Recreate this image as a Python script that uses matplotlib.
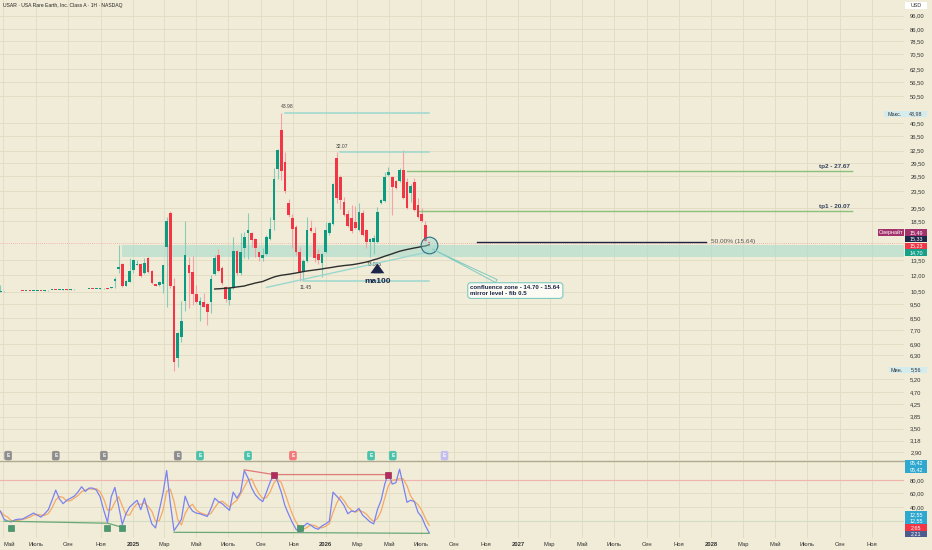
import numpy as np
import pandas as pd
import matplotlib
matplotlib.use("Agg")
import matplotlib.pyplot as plt
import matplotlib.dates as mdates
from matplotlib.patches import Rectangle
from matplotlib.ticker import NullLocator
from datetime import date, timedelta

plt.rcParams['font.family'] = ['Liberation Sans', 'DejaVu Sans']

# weekly candles, first one in the week of 2024-04-25
first_week = date(2024, 4, 25)

# flat SPAC period, then the traded stock
opens = [10.50, 10.52, 10.53, 10.52, 10.54, 10.53, 10.55, 10.54, 10.56, 10.55, 10.57, 10.58, 10.57, 10.60, 10.62,
         10.64, 10.62, 10.66, 10.68, 10.66, 10.68, 10.69, 10.70, 10.69, 10.72, 10.73, 10.71, 10.75, 10.78,
         10.81, 10.81, 11.43, 12.59, 13.11, 11.01, 11.37, 12.49, 13.05, 13.11, 12.16, 13.72, 12.39, 11.14, 11.05,
         11.19, 14.98, 19.77, 11.01, 6.15, 7.31, 9.76, 13.00, 12.32, 10.30, 9.43, 9.69, 9.51, 9.69, 12.09,
         14.08, 12.69, 10.92, 9.82, 10.78, 14.55, 12.16, 14.86, 16.76, 16.76, 15.98, 14.46, 13.72, 14.20,
         15.98, 18.65, 28.01, 38.38, 29.77, 21.32, 18.91, 17.67, 14.46, 12.32, 13.46, 17.45, 16.84, 14.20,
         13.18, 14.46, 16.76, 18.02, 30.59, 26.39, 21.60, 19.52, 19.00, 18.40, 17.21, 19.68, 17.21, 15.60,
         15.67, 15.60, 21.32, 21.72, 26.75, 26.33, 25.50, 25.50, 27.85, 25.30, 23.16, 25.30, 21.03, 19.57,
         17.92, 15.60]
highs = [11.05, 10.54, 10.54, 10.55, 10.55, 10.56, 10.56, 10.57, 10.57, 10.58, 10.59, 10.59, 10.61, 10.63, 10.65,
         10.65, 10.67, 10.69, 10.69, 10.69, 10.70, 10.71, 10.71, 10.73, 10.74, 10.74, 10.76, 10.79, 10.81,
         10.85, 10.92, 11.84, 15.26, 13.20, 11.50, 13.78, 13.60, 13.53, 13.20, 13.75, 13.90, 12.45, 11.20, 11.40,
         13.05, 19.15, 20.00, 11.69, 7.60, 9.76, 18.50, 13.89, 13.95, 11.08, 10.03, 10.36, 9.60, 12.00, 14.08,
         14.74, 12.90, 11.00, 10.90, 16.31, 14.70, 16.76, 16.98, 19.68, 17.00, 16.10, 14.60, 14.86, 16.54,
         19.06, 28.23, 33.00, 43.98, 32.25, 22.02, 19.57, 17.92, 15.05, 13.60, 19.06, 18.65, 17.67, 14.74,
         14.30, 18.40, 18.40, 25.00, 32.07, 26.80, 22.48, 20.21, 21.03, 20.92, 21.32, 20.21, 17.30, 16.10,
         16.54, 20.75, 22.00, 27.35, 28.60, 26.60, 25.70, 28.23, 32.70, 26.06, 24.90, 26.20, 22.20, 20.60,
         18.50, 15.70]
lows = [10.48, 10.50, 10.51, 10.51, 10.52, 10.52, 10.53, 10.53, 10.54, 10.54, 10.56, 10.56, 10.56, 10.59, 10.61,
        10.61, 10.61, 10.65, 10.65, 10.65, 10.67, 10.68, 10.68, 10.68, 10.71, 10.70, 10.70, 10.74, 10.76,
        10.70, 10.78, 10.78, 12.16, 10.90, 10.95, 11.30, 12.19, 12.95, 11.80, 12.10, 12.20, 11.20, 10.95, 11.00,
        10.39, 9.26, 10.81, 5.56, 5.75, 7.03, 9.01, 9.19, 9.43, 9.60, 8.30, 9.25, 8.03, 8.83, 12.00,
        12.30, 11.08, 9.69, 9.43, 10.70, 12.00, 12.00, 13.72, 13.61, 15.05, 13.89, 13.46, 13.46, 14.10,
        15.90, 17.21, 25.85, 25.70, 23.21, 19.15, 14.86, 14.08, 11.45, 11.53, 13.30, 17.00, 13.35, 13.11,
        11.84, 14.30, 16.50, 17.90, 21.32, 20.37, 19.30, 17.70, 16.76, 17.30, 17.10, 16.40, 14.86, 13.865,
        14.17, 15.50, 21.20, 21.60, 26.50, 19.41, 23.90, 25.30, 22.00, 20.40, 21.60, 20.00, 19.00, 18.30,
        15.60, 15.10]
closes = [10.52, 10.53, 10.52, 10.54, 10.53, 10.55, 10.54, 10.56, 10.55, 10.57, 10.58, 10.57, 10.60, 10.62, 10.64,
          10.62, 10.66, 10.68, 10.66, 10.68, 10.69, 10.70, 10.69, 10.72, 10.73, 10.71, 10.75, 10.78, 10.80,
          10.72, 10.90, 11.59, 12.80, 11.01, 11.43, 12.39, 13.53, 13.15, 11.90, 13.24, 12.29, 11.28, 11.01, 11.35,
          12.98, 18.45, 11.01, 5.96, 7.55, 8.32, 14.08, 12.16, 10.30, 9.66, 9.76, 9.31, 8.94, 11.59, 13.75,
          12.39, 11.26, 9.87, 10.78, 14.55, 12.16, 14.46, 16.31, 17.21, 15.89, 14.86, 13.89, 14.08, 16.23,
          17.31, 25.85, 32.70, 27.69, 23.59, 19.41, 17.31, 14.46, 12.22, 13.46, 17.21, 17.12, 13.72, 13.53,
          14.20, 17.21, 18.25, 24.83, 22.30, 21.89, 19.41, 17.81, 17.08, 17.45, 19.93, 16.54, 15.60, 16.01,
          16.10, 19.84, 21.89, 26.33, 27.41, 24.30, 24.11, 27.85, 22.25, 20.53, 24.49, 20.21, 19.10, 18.50,
          15.76, 15.49]

# moving average (dark line), starts at candle 58
ma_start = 58
ma100 = [10.72, 10.74, 10.76, 10.79, 10.81, 10.85, 10.90, 10.94, 10.98, 11.08, 11.16, 11.25, 11.32, 11.39,
         11.53, 11.67, 11.80, 11.90, 11.97, 12.02, 12.07, 12.13, 12.19, 12.26, 12.33, 12.39, 12.44, 12.49,
         12.54, 12.59, 12.66, 12.71, 12.77, 12.84, 12.89, 12.94, 12.98, 13.02, 13.08, 13.15, 13.23, 13.31,
         13.42, 13.55, 13.66, 13.80, 13.95, 14.08, 14.22, 14.37, 14.51, 14.62, 14.72, 14.81, 14.90, 14.98,
         15.07, 15.14, 15.30]

# stochastic RSI %K (lower pane)
stoch_k = [34, 22, 19, 18, 21, 22, 22, 25, 28, 31, 28, 25, 30, 36, 50, 65, 52, 45, 50, 53, 56, 62, 70, 63, 68,
           68, 65, 55, 35, 17, 55, 69, 42, 14, 30, 40, 45, 50, 36, 53, 33, 15, 9, 35, 60, 94, 45, 5, 13, 22,
           56, 42, 34, 31, 30, 28, 26, 38, 53, 48, 45, 40, 35, 62, 53, 62, 94, 83, 68, 58, 52, 48, 62, 77, 88,
           78, 62, 42, 29, 17, 7, 3, 11, 16, 13, 9, 7, 12, 15, 19, 62, 56, 50, 42, 30, 34, 33, 38, 28, 23, 18,
           15, 36, 50, 74, 91, 74, 76, 96, 72, 47, 50, 48, 32, 25, 12, 2]

# drawings
zone_lo, zone_hi, zone_from = 13.90, 15.25, 33
levels = [(43.98, 77, "43.98", 1), (32.07, 92, "32.07", 1), (11.45, 82, "11.45", -1)]
trend_idx, trend_val = [72, 116], [10.86, 14.46]
tp_levels = [(27.67, 110, "tp2 - 27.67"), (20.07, 113, "tp1 - 20.07")]
tp_end = date(2028, 9, 23)
fib_val, fib_start, fib_end = 15.64, date(2026, 10, 14), date(2027, 12, 23)
last_price = 15.49

div_low1 = ([1, 29, 33], [19, 16, 10])
div_low2 = ([47, 81, 116], [2.5, 2.0, 1.0])
div_high = ([66, 74, 105], [95, 88, 88])
div_green_marks = [3, 29, 33, 81]
div_red_marks = [74, 105]

event_dates = [date(2024, 5, 10), date(2024, 8, 8), date(2024, 11, 7), date(2025, 3, 27), date(2025, 5, 8),
               date(2025, 8, 7), date(2025, 10, 31), date(2026, 3, 28), date(2026, 5, 8), date(2026, 8, 14)]
event_colors = ['#8d8d8d', '#8d8d8d', '#8d8d8d', '#8d8d8d', '#4cc2aa', '#4cc2aa', '#f07a7a', '#4cc2aa',
                '#4cc2aa', '#c4bdf0']

price_ticks = [96, 86, 78.5, 70.5, 62.5, 56.5, 50.5, 40.5, 36.5, 32.5, 29.5, 26.5, 23.5, 20.5, 18.5, 13.5,
               12, 10.5, 9.5, 8.5, 7.7, 6.9, 6.3, 5.2, 4.7, 4.25, 3.85, 3.5, 3.18, 2.9]
osc_ticks = [80, 60, 40]
month_names = {1: None, 3: 'Мар', 5: 'Май', 7: 'Июль', 9: 'Сен', 11: 'Ноя'}

# ---------------------------------------------------------------
BG = '#f0ecd7'
GRID = '#e2ddc4'
UP, DOWN = '#0c9b80', '#f23645'
UPW, DOWNW = '#84cdbd', '#f4a2a8'
NAVY = '#1c2547'
TEAL = '#9ad8cf'
W, H = 932, 550


def fx(px):
    return px / W


def fy(py):
    return 1 - py / H


n = len(closes)
dates = [first_week + timedelta(weeks=i) for i in range(n)]
xs = mdates.date2num(dates)
o, h, l, c = map(np.array, (opens, highs, lows, closes))

fig = plt.figure(figsize=(W / 100, H / 100), dpi=100, facecolor=BG)
ax = fig.add_axes([0, fy(460), 904 / W, 460 / H], facecolor=BG)
ax2 = fig.add_axes([0, fy(538), 904 / W, (538 - 461) / H], facecolor=BG, sharex=ax)

x_left, x_right = date(2024, 4, 25), date(2028, 12, 31)
ax.set_xlim(mdates.date2num(x_left) - 0.5, mdates.date2num(x_right))
ax.set_yscale('log')
ax.set_ylim(2.72, 108.9)
ax2.set_ylim(-5.9, 108.1)

# month ticks
tick_pos, tick_lab, tick_bold = [], [], []
for yr in range(2024, 2029):
    for m in (1, 3, 5, 7, 9, 11):
        d = date(yr, m, 1)
        if x_left <= d <= x_right:
            tick_pos.append(mdates.date2num(d))
            tick_lab.append(str(yr) if m == 1 else month_names[m])
            tick_bold.append(m == 1)
ax2.set_xticks(tick_pos)
ax2.set_xticklabels(tick_lab)
for t, b in zip(ax2.get_xticklabels(), tick_bold):
    if b:
        t.set_fontweight('bold')
ax2.get_xticklabels()[0].set_horizontalalignment('left')
ax2.tick_params(axis='x', length=0, pad=3.2, labelsize=4.2, colors='#333333')
ax.tick_params(axis='x', length=0, labelbottom=False)

ax.yaxis.tick_right()
ax.set_yticks(price_ticks)
ax.set_yticklabels([f"{v:.2f}".replace('.', ',') for v in price_ticks])
ax.yaxis.set_minor_locator(NullLocator())
ax.tick_params(axis='y', length=0, pad=4.5, labelsize=4.2, colors='#333333')
ax2.yaxis.tick_right()
ax2.set_yticks(osc_ticks)
ax2.set_yticklabels([f"{v:.2f}".replace('.', ',') for v in osc_ticks])
ax2.tick_params(axis='y', length=0, pad=4.5, labelsize=4.2, colors='#333333')

for a in (ax, ax2):
    a.grid(True, color=GRID, lw=0.7, zorder=0)
    a.set_axisbelow(True)
    for s in a.spines.values():
        s.set_visible(False)

# zone + price line
ax.fill_between([xs[zone_from], mdates.date2num(x_right)], zone_lo, zone_hi, color='#a9dccc', alpha=0.6,
                lw=0, zorder=1)
ax.axhline(last_price, color='#f2a7a0', lw=0.6, ls=(0, (1, 1.5)), zorder=1)

# candles
up = c >= o
wick_cols = np.where(up, UPW, DOWNW)
body_cols = np.where(up, UP, DOWN)
ax.vlines(xs, l, h, colors=wick_cols, lw=0.8, zorder=2)
bottoms = np.minimum(o, c)
heights = np.maximum(np.abs(c - o), bottoms * 0.006)
ax.bar(xs, heights, bottom=bottoms, width=5.0, color=body_cols, lw=0, zorder=3)

# MA line and trendline
ax.plot(xs[ma_start:ma_start + len(ma100)], ma100, color='#2e2e2e', lw=1.0, zorder=4)
ax.plot(xs[trend_idx], trend_val, color=TEAL, lw=1.0, zorder=4)

# swing levels
for val, idx, lab, side in levels:
    ax.plot([xs[idx], xs[-1]], [val, val], color=TEAL, lw=1.1, zorder=2)
    ax.annotate(lab, (xs[idx], val), xytext=(1.5, 4.5 * side), textcoords='offset points', ha='center',
                va='center', fontsize=3.6, color='#444444')
ax.annotate("13.865", (xs[101], 13.865), xytext=(0, -5.5), textcoords='offset points', ha='center',
            va='center', fontsize=3.6, color='#444444')

# ma100 arrow + label
ax.annotate('', xy=(xs[102], 13.15), xytext=(xs[102], 12.15),
            arrowprops=dict(arrowstyle='simple,head_width=1.0,head_length=0.7,tail_width=0.55', color=NAVY,
                            lw=0, shrinkA=0, shrinkB=0))
ax.text(xs[102], 11.42, 'ma100', ha='center', va='center', fontsize=6, fontweight='bold', color=NAVY)

# targets
for val, idx, lab in tp_levels:
    ax.plot([xs[idx], mdates.date2num(tp_end)], [val, val], color='#8fbf7c', lw=1.0, zorder=2)
    ax.annotate(lab, (mdates.date2num(tp_end), val), xytext=(-1, 3.3), textcoords='offset points', ha='right',
                va='center', fontsize=4.6, fontweight='bold', color='#34425e')

# fib 0.5
ax.plot([mdates.date2num(fib_start), mdates.date2num(fib_end)], [fib_val, fib_val], color=NAVY, lw=1.0)
ax.annotate(f"50.00% ({fib_val:.2f})", (mdates.date2num(fib_end), fib_val), xytext=(3, 0),
            textcoords='offset points', ha='left', va='center', fontsize=4.6, color='#555555')

# circle + callout
ax.plot(xs[-1], 15.3, marker='o', ms=12, mfc=(0.6, 0.85, 0.82, 0.45), mec='#2c6f84', mew=0.8, zorder=6)
ax.annotate("confluence zone - 14.70 - 15.64\nmirror level - fib 0.5", (xs[-1] + 2, 14.9),
            xytext=(29, -27), textcoords='offset points', ha='left', va='top', fontsize=4.4,
            fontweight='bold', color=NAVY, linespacing=1.05,
            bbox=dict(boxstyle='round,pad=0.45,rounding_size=0.5', fc='#fbfaf3', ec='#7fcac1', lw=0.8),
            arrowprops=dict(arrowstyle='wedge,tail_width=0.55,shrink_factor=0.4', fc=BG, ec='#7fcac1',
                            lw=0.7), zorder=7)

# event icons
for d, col in zip(event_dates, event_colors):
    ax.text(mdates.date2num(d), 0.0095, 'E', transform=ax.get_xaxis_transform(), ha='center', va='center',
            fontsize=3.4, color='white', fontweight='bold',
            bbox=dict(boxstyle='round,pad=0.4,rounding_size=0.35', fc=col, ec=col, lw=0.5))

# oscillator
stoch_d = pd.Series(stoch_k, dtype=float).rolling(3, min_periods=1).mean()
ax2.axhline(80, color='#f0b4ac', lw=0.8)
ax2.axhline(20, color='#d6dcc4', lw=0.8)
ax2.plot(xs, stoch_d, color='#f5a964', lw=0.9, zorder=3)
ax2.plot(xs, stoch_k, color='#7b82f0', lw=0.9, zorder=4)
for idx, vals, col in ((div_low1[0], div_low1[1], '#6aa877'), (div_low2[0], div_low2[1], '#6aa877'),
                       (div_high[0], div_high[1], '#e07a78')):
    ax2.plot(xs[idx], vals, color=col, lw=0.9, zorder=5)
ax2.plot(xs[div_green_marks], [9] * len(div_green_marks), ls='none', marker='s', ms=4, mfc='#4a9a70',
         mec='#3a7d5a', mew=0.4, zorder=6)
ax2.plot(xs[div_red_marks], [88] * len(div_red_marks), ls='none', marker='s', ms=4, mfc='#b42b5d',
         mec='#8c2048', mew=0.4, zorder=6)

# pane separator
fig.add_artist(plt.Line2D([0, fx(904)], [fy(460.5), fy(460.5)], color='#aeaa92', lw=1.0,
                          transform=fig.transFigure))

# title
fig.text(fx(3), fy(5), "USAR · USA Rare Earth, Inc. Class A · 1Н · NASDAQ", fontsize=3.6, color='#222222',
         va='center', ha='left')


# price-scale labels
def scale_box(y_px, text, col, x0=905, w=22, tcol='white'):
    fig.add_artist(Rectangle((fx(x0), fy(y_px + 3.2)), w / W, 6.4 / H, transform=fig.transFigure, fc=col,
                             ec='none'))
    fig.text(fx(x0 + w / 2), fy(y_px), text, ha='center', va='center', fontsize=3.9, color=tcol)


scale_box(5.5, 'USD', 'white', tcol='#333333')
scale_box(114, 'Макс.', '#d5ecef', x0=884, w=21, tcol='#333333')
scale_box(114, '43,98', '#d5ecef', tcol='#333333')
scale_box(370, 'Мин.', '#d5ecef', x0=889, w=16, tcol='#333333')
scale_box(370, '5,56', '#d5ecef', tcol='#333333')
scale_box(232.5, 'Овернайт', '#a3326c', x0=878, w=26)
scale_box(232.5, '15,49', '#a3326c')
scale_box(239.2, '15,33', '#1d2749')
scale_box(245.9, '15,23', '#f23645')
scale_box(252.6, '14,70', '#16a089')
scale_box(463, '95,42', '#2fa8cf')
scale_box(469.5, '95,42', '#2fa8cf')
scale_box(514.5, '12,55', '#2fa8cf')
scale_box(521, '12,55', '#2fa8cf')
scale_box(527.5, '2,65', '#f23645')
scale_box(534, '2,21', '#4d5c8e')

fig.savefig("out.png", dpi=100, facecolor=BG)
